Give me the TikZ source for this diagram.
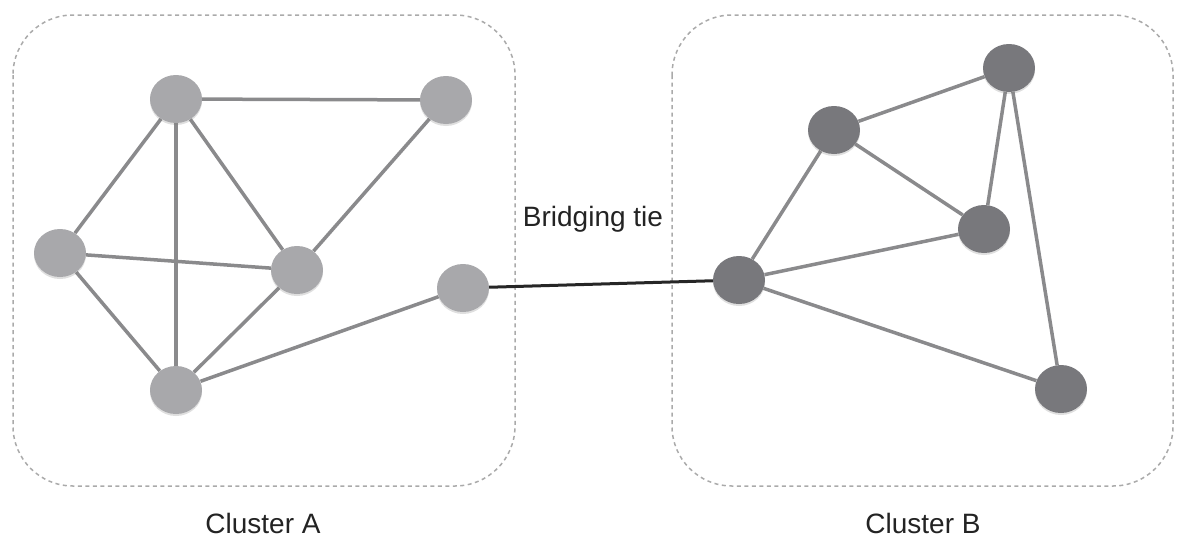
\documentclass[tikz,border=0pt]{standalone}
\usepackage{fontspec}
\setmainfont{Liberation Sans}
\usetikzlibrary{backgrounds,shadows,shapes.geometric}
\definecolor{edgegray}{RGB}{138,138,140}
\definecolor{boxgray}{RGB}{170,170,170}
\definecolor{lightnode}{RGB}{168,168,171}
\definecolor{darknode}{RGB}{120,120,124}
\definecolor{txt}{RGB}{35,35,35}
\tikzset{
  cluster/.style={draw=boxgray,line width=1.5pt,dash pattern=on 4pt off 3.5pt,rounded corners=60pt},
  nodeA/.style={ellipse,minimum width=52pt,minimum height=48pt,inner sep=0pt,fill=lightnode,
     drop shadow={shadow xshift=0pt,shadow yshift=-2pt,opacity=0.25,fill=gray}},
  nodeB/.style={ellipse,minimum width=52pt,minimum height=48pt,inner sep=0pt,fill=darknode,
     drop shadow={shadow xshift=0pt,shadow yshift=-2pt,opacity=0.25,fill=gray}},
  tie/.style={draw=edgegray,line width=3.5pt},
  bridge/.style={draw=black!85,line width=3pt},
  lbl/.style={text=txt,font=\fontsize{28}{32}\selectfont,inner sep=0pt}
}
\begin{document}
\begin{tikzpicture}[x=1pt,y=-1pt]
\useasboundingbox (0,0) rectangle (1183,555);
% nodes
\node[nodeA] (a1) at (176,99) {};
\node[nodeA] (a2) at (446,100) {};
\node[nodeA] (a3) at (60,253) {};
\node[nodeA] (a4) at (297,270) {};
\node[nodeA] (a5) at (463,288) {};
\node[nodeA] (a6) at (176,390) {};
\node[nodeB] (b1) at (1009,68) {};
\node[nodeB] (b2) at (834,130) {};
\node[nodeB] (b3) at (984,229) {};
\node[nodeB] (b4) at (739,280) {};
\node[nodeB] (b5) at (1061,389) {};
% labels
\node[lbl] (bt) at (593,219) {Bridging tie};
\node[lbl] (ca) at (263,523) {Cluster A};
\node[lbl] (cb) at (923,523) {Cluster B};
\begin{scope}[on background layer]
\draw[cluster] (13,15) rectangle (515,486);
\draw[cluster] (672,15) rectangle (1173,486);
\draw[tie] (a1) -- (a2);
\draw[tie] (a1) -- (a3);
\draw[tie] (a1) -- (a4);
\draw[tie] (a1) -- (a6);
\draw[tie] (a2) -- (a4);
\draw[tie] (a3) -- (a4);
\draw[tie] (a3) -- (a6);
\draw[tie] (a4) -- (a6);
\draw[tie] (a6) -- (a5);
\draw[tie] (b2) -- (b1);
\draw[tie] (b1) -- (b3);
\draw[tie] (b1) -- (b5);
\draw[tie] (b2) -- (b3);
\draw[tie] (b2) -- (b4);
\draw[tie] (b4) -- (b3);
\draw[tie] (b4) -- (b5);
\draw[bridge] (a5) -- (b4);
\end{scope}
\end{tikzpicture}
\end{document}
